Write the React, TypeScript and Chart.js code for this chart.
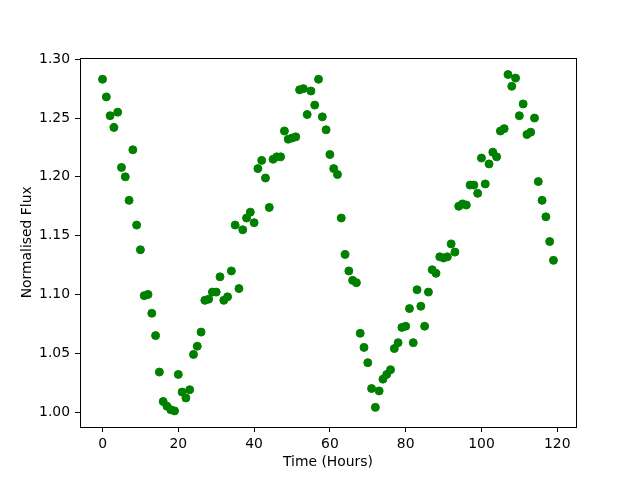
import React, { useEffect, useRef } from "react";
import { Chart, registerables } from "chart.js";

Chart.register(...registerables);

const hours: number[] = [
  0, 1, 2, 3, 4, 5, 6, 7, 8, 9,
  10, 11, 12, 13, 14, 15, 16, 17, 18, 19,
  20, 21, 22, 23, 24, 25, 26, 27, 28, 29,
  30, 31, 32, 33, 34, 35, 36, 37, 38, 39,
  40, 41, 42, 43, 44, 45, 46, 47, 48, 49,
  50, 51, 52, 53, 54, 55, 56, 57, 58, 59,
  60, 61, 62, 63, 64, 65, 66, 67, 68, 69,
  70, 71, 72, 73, 74, 75, 76, 77, 78, 79,
  80, 81, 82, 83, 84, 85, 86, 87, 88, 89,
  90, 91, 92, 93, 94, 95, 96, 97, 98, 99,
  100, 101, 102, 103, 104, 105, 106, 107, 108, 109,
  110, 111, 112, 113, 114, 115, 116, 117, 118, 119,
];

const flux: number[] = [
  1.283, 1.268, 1.252, 1.242, 1.255, 1.208, 1.200, 1.180, 1.223, 1.159,
  1.138, 1.099, 1.100, 1.084, 1.065, 1.034, 1.009, 1.005, 1.002, 1.001,
  1.032, 1.017, 1.012, 1.019, 1.049, 1.056, 1.068, 1.095, 1.096, 1.102,
  1.102, 1.115, 1.095, 1.098, 1.120, 1.159, 1.105, 1.155, 1.165, 1.170,
  1.161, 1.207, 1.214, 1.199, 1.174, 1.215, 1.217, 1.217, 1.239, 1.232,
  1.233, 1.234, 1.274, 1.275, 1.253, 1.273, 1.261, 1.283, 1.251, 1.240,
  1.219, 1.207, 1.202, 1.165, 1.134, 1.120, 1.112, 1.110, 1.067, 1.055,
  1.042, 1.020, 1.004, 1.018, 1.028, 1.032, 1.036, 1.054, 1.059, 1.072,
  1.073, 1.088, 1.059, 1.104, 1.090, 1.073, 1.102, 1.121, 1.118, 1.132,
  1.131, 1.132, 1.143, 1.136, 1.175, 1.177, 1.176, 1.193, 1.193, 1.186,
  1.216, 1.194, 1.211, 1.221, 1.217, 1.239, 1.241, 1.287, 1.277, 1.284,
  1.252, 1.262, 1.236, 1.238, 1.250, 1.196, 1.180, 1.166, 1.145, 1.129,
];

const xTicks: number[] = [0, 20, 40, 60, 80, 100, 120];
const yTicks: number[] = [1.0, 1.05, 1.1, 1.15, 1.2, 1.25, 1.3];

const FONT = "'DejaVu Sans', sans-serif";

const frame = {
  id: "frame",
  afterDraw(chart: any) {
    const { ctx, chartArea } = chart;
    ctx.save();
    ctx.strokeStyle = "#000";
    ctx.lineWidth = 1;
    ctx.strokeRect(
      Math.round(chartArea.left) + 0.5,
      Math.round(chartArea.top) + 0.5,
      Math.round(chartArea.right - chartArea.left),
      Math.round(chartArea.bottom - chartArea.top)
    );
    ctx.restore();
  },
};

export default function App() {
  const ref = useRef<HTMLCanvasElement>(null);
  useEffect(() => {
    if (!ref.current) return;
    const chart = new Chart(ref.current, {
      type: "scatter",
      data: {
        datasets: [
          {
            data: hours.map((h, i) => ({ x: h, y: flux[i] })),
            backgroundColor: "#008000",
            borderColor: "#008000",
            pointRadius: 4,
            borderWidth: 1,
          },
        ],
      },
      options: {
        animation: false,
        responsive: false,
        maintainAspectRatio: false,
        layout: { padding: { left: 0, right: 64, top: 57.6, bottom: 0 } },
        plugins: { legend: { display: false }, tooltip: { enabled: false } },
        scales: {
          x: {
            type: "linear",
            min: -5.95,
            max: 124.95,
            grid: { drawOnChartArea: false, tickLength: 5, tickColor: "#000", tickWidth: 1 },
            border: { display: false },
            ticks: {
              color: "#000",
              padding: 4,
              font: { family: FONT, size: 13.9 },
              callback: (v: any) => String(v),
            },
            afterBuildTicks: (s: any) => {
              s.ticks = xTicks.map((v) => ({ value: v }));
            },
            afterFit: (s: any) => {
              s.height = 53;
            },
            title: {
              display: true,
              text: "Time (Hours)",
              color: "#000",
              font: { family: FONT, size: 13.9 },
              padding: { top: 0, bottom: 9 },
            },
          },
          y: {
            type: "linear",
            min: 0.9873,
            max: 1.3014,
            grid: { drawOnChartArea: false, tickLength: 5, tickColor: "#000", tickWidth: 1 },
            border: { display: false },
            ticks: {
              color: "#000",
              padding: 5,
              font: { family: FONT, size: 13.9 },
              callback: (v: any) => Number(v).toFixed(2),
            },
            afterBuildTicks: (s: any) => {
              s.ticks = yTicks.map((v) => ({ value: v }));
            },
            afterFit: (s: any) => {
              s.width = 80;
            },
            title: {
              display: true,
              text: "Normalised Flux",
              color: "#000",
              font: { family: FONT, size: 13.9 },
              padding: { top: 19, bottom: 0 },
            },
          },
        },
      },
      plugins: [frame],
    });
    return () => chart.destroy();
  }, []);
  return (
    <div style={{ position: "fixed", left: 0, top: 0, width: 640, height: 480, background: "#fff" }}>
      <canvas ref={ref} width={640} height={480} style={{ width: 640, height: 480 }} />
    </div>
  );
}
